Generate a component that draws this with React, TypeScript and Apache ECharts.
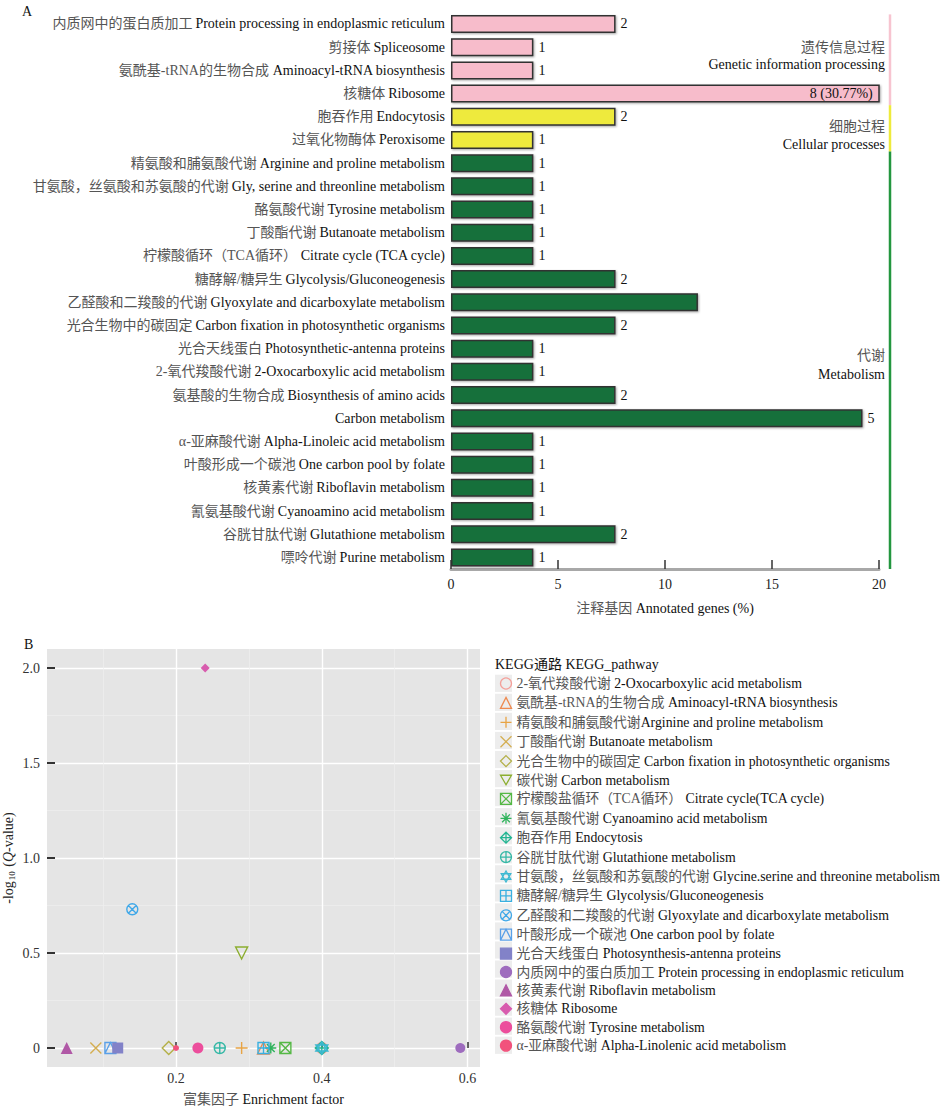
import React, { useEffect, useRef } from 'react';
import * as echarts from 'echarts';

const FONT = "'Liberation Serif','Times New Roman','Noto Sans CJK SC',serif";

// ---------- Panel A data ----------
const pathwayCn = [
  '内质网中的蛋白质加工', '剪接体', '氨酰基-tRNA的生物合成', '核糖体', '胞吞作用', '过氧化物酶体',
  '精氨酸和脯氨酸代谢', '甘氨酸，丝氨酸和苏氨酸的代谢', '酪氨酸代谢', '丁酸酯代谢', '柠檬酸循环（TCA循环）',
  '糖酵解/糖异生', '乙醛酸和二羧酸的代谢', '光合生物中的碳固定', '光合天线蛋白', '2-氧代羧酸代谢',
  '氨基酸的生物合成', '', 'α-亚麻酸代谢', '叶酸形成一个碳池', '核黄素代谢', '氰氨基酸代谢', '谷胱甘肽代谢', '嘌呤代谢',
];
const pathwayEn = [
  'Protein processing in endoplasmic reticulum', 'Spliceosome', 'Aminoacyl-tRNA biosynthesis', 'Ribosome',
  'Endocytosis', 'Peroxisome', 'Arginine and proline metabolism', 'Gly, serine and threonline metabolism',
  'Tyrosine metabolism', 'Butanoate metabolism', 'Citrate cycle (TCA cycle)', 'Glycolysis/Gluconeogenesis',
  'Glyoxylate and dicarboxylate metabolism', 'Carbon fixation in photosynthetic organisms',
  'Photosynthetic-antenna proteins', '2-Oxocarboxylic acid metabolism', 'Biosynthesis of amino acids',
  'Carbon metabolism', 'Alpha-Linoleic acid metabolism', 'One carbon pool by folate', 'Riboflavin metabolism',
  'Cyanoamino acid metabolism', 'Glutathione metabolism', 'Purine metabolism',
];
const annotatedPct = [
  7.69, 3.85, 3.85, 30.77, 7.69, 3.85, 3.85, 3.85, 3.85, 3.85, 3.85, 7.69,
  11.54, 7.69, 3.85, 3.85, 7.69, 19.23, 3.85, 3.85, 3.85, 3.85, 7.69, 3.85,
];
const geneLabels = [
  '2', '1', '1', '8 (30.77%)', '2', '1', '1', '1', '1', '1', '1', '2',
  '', '2', '1', '1', '2', '5', '1', '1', '1', '1', '2', '1',
];
const pathwayGroup = [0, 0, 0, 0, 1, 1, 2, 2, 2, 2, 2, 2, 2, 2, 2, 2, 2, 2, 2, 2, 2, 2, 2, 2];
const groupNamesCn = ['遗传信息过程', '细胞过程', '代谢'];
const groupNamesEn = ['Genetic information processing', 'Cellular processes', 'Metabolism'];
const groupBarColors = ['#F7BCCB', '#EEEA3C', '#15703A'];
const groupLineColors = ['#F7C4D0', '#EEEA3C', '#23963F'];
const groupTextY = [[47, 64], [126, 144], [355, 374]];

// ---------- Panel B data ----------
const keggCn = [
  '2-氧代羧酸代谢 ', '氨酰基-tRNA的生物合成 ', '精氨酸和脯氨酸代谢', '丁酸酯代谢 ', '光合生物中的碳固定 ',
  '碳代谢 ', '柠檬酸盐循环（TCA循环） ', '氰氨基酸代谢 ', '胞吞作用 ', '谷胱甘肽代谢 ',
  '甘氨酸，丝氨酸和苏氨酸的代谢 ', '糖酵解/糖异生 ', '乙醛酸和二羧酸的代谢 ', '叶酸形成一个碳池 ', '光合天线蛋白 ',
  '内质网中的蛋白质加工 ', '核黄素代谢 ', '核糖体 ', '酪氨酸代谢 ', 'α-亚麻酸代谢 ',
];
const keggEn = [
  '2-Oxocarboxylic acid metabolism', 'Aminoacyl-tRNA biosynthesis', 'Arginine and proline metabolism',
  'Butanoate metabolism', 'Carbon fixation in photosynthetic organisms', 'Carbon metabolism',
  'Citrate cycle(TCA cycle)', 'Cyanoamino acid metabolism', 'Endocytosis', 'Glutathione metabolism',
  'Glycine.serine and threonine metabolism', 'Glycolysis/Gluconeogenesis',
  'Glyoxylate and dicarboxylate metabolism', 'One carbon pool by folate', 'Photosynthesis-antenna proteins',
  'Protein processing in endoplasmic reticulum', 'Riboflavin metabolism', 'Ribosome', 'Tyrosine metabolism',
  'Alpha-Linolenic acid metabolism',
];
const enrichFactor = [0.40, 0.32, 0.29, 0.09, 0.19, 0.29, 0.35, 0.33, 0.40, 0.26, 0.40, 0.32, 0.14, 0.11, 0.12, 0.59, 0.05, 0.24, 0.23, 0.20];
const negLog10Q = [0, 0, 0, 0, 0, 0.5, 0, 0, 0, 0, 0, 0, 0.73, 0, 0, 0, 0, 2.0, 0, 0];
const keggColors = [
  '#F4A09A', '#EE8A50', '#E8A445', '#D4AE50', '#B4B048', '#8CAE30', '#55B845', '#30B35C', '#22B592', '#35B8A6',
  '#3CB9D2', '#3AB0E0', '#40A8E8', '#5AA0E8', '#8282C8', '#9E6CBE', '#B058A6', '#D85CAE', '#EC4E9C', '#F2527C',
];
const xMajor = [0.2, 0.4, 0.6];
const xMinor = [0.1, 0.3, 0.5];
const yMajor = [0, 0.5, 1.0, 1.5, 2.0];
const yMinor = [0.25, 0.75, 1.25, 1.75];

const CIRC = 'M0 10 A10 10 0 1 1 20 10 A10 10 0 1 1 0 10 Z';
const X_LINES = 'M2.93 2.93 L17.07 17.07 M17.07 2.93 L2.93 17.07';
const PLUS_LINES = 'M10 0 V20 M0 10 H20';
const keggSymbols = [
  'circle', 'triangle', 'path://' + PLUS_LINES, 'path://M0 0 L20 20 M20 0 L0 20', 'diamond',
  'path://M0 0 H20 L10 17.32 Z', 'path://M0 0 H20 V20 H0 Z M0 0 L20 20 M20 0 L0 20',
  'path://M10 0 V20 M0 10 H20 M2.93 2.93 L17.07 17.07 M17.07 2.93 L2.93 17.07',
  'path://M10 0 L20 10 L10 20 L0 10 Z ' + PLUS_LINES, 'path://' + CIRC + ' ' + PLUS_LINES,
  'path://M10 0 L18.66 15 L1.34 15 Z M10 20 L1.34 5 L18.66 5 Z', 'path://M0 0 H20 V20 H0 Z ' + PLUS_LINES,
  'path://' + CIRC + ' ' + X_LINES, 'path://M0 0 H20 V20 H0 Z M0 20 L10 0 L20 20',
  'rect', 'circle', 'triangle', 'diamond', 'circle', 'circle',
];
const keggFilled = [false, false, false, false, false, false, false, false, false, false, false, false, false, false, true, true, true, true, true, true];
const keggSizes = [11, 12, 12, 11, 13, 12, 11, 11, 13, 11, 12, 11, 11, 11, 11, 10, 12, 9, 11, 6];

const LEG_TOP = 675.5;
const LEG_ROW = 15;
const LEG_ITEM_H = 15.65;
const LEG_GAP = 3.4;

export default function App() {
  const ref = useRef<HTMLDivElement>(null);
  useEffect(() => {
    document.body.style.margin = '0';
    const chart = echarts.init(ref.current!, null, { renderer: 'svg' });
    const catNames = pathwayEn.map((e, i) => (pathwayCn[i] ? pathwayCn[i] + ' ' : '') + e);
    const keggNames = keggEn.map((e, i) => keggCn[i] + e);

    const barData = annotatedPct.map((v, i) => ({
      value: v,
      itemStyle: { color: groupBarColors[pathwayGroup[i]] },
      label: {
        formatter: geneLabels[i],
        position: i === 3 ? 'insideRight' : 'right',
        distance: i === 3 ? 7 : 5,
      },
    }));

    const scatterSeries = keggNames.map((name, i) => ({
      type: 'scatter',
      name,
      xAxisIndex: 1,
      yAxisIndex: 1,
      symbol: keggSymbols[i],
      symbolSize: keggSizes[i],
      data: [[enrichFactor[i], negLog10Q[i]]],
      itemStyle: {
        color: keggFilled[i] ? keggColors[i] : 'none',
        borderColor: keggColors[i],
        borderWidth: keggFilled[i] ? 0 : 1.4,
        opacity: 1,
      },
      emphasis: { disabled: true },
      z: 3,
    }));

    const richCE = (size: number) => ({
      c: { fontFamily: FONT, fontSize: size, color: '#555' },
      e: { fontFamily: FONT, fontSize: size, color: '#111' },
    });

    const option: any = {
      animation: false,
      backgroundColor: '#ffffff',
      textStyle: { fontFamily: FONT },
      title: {
        text: 'KEGG通路 KEGG_pathway',
        left: 495,
        top: 657,
        padding: 0,
        textStyle: { fontFamily: FONT, fontSize: 14, fontWeight: 'normal', color: '#111' },
      },
      legend: {
        orient: 'vertical',
        left: 498,
        top: LEG_TOP,
        padding: 0,
        z: 5,
        itemWidth: 11,
        itemHeight: 11,
        itemGap: LEG_GAP,
        selectedMode: false,
        data: keggNames,
        itemStyle: { borderWidth: 1.3 },
        formatter: (name: string) => {
          const i = keggNames.indexOf(name);
          return `{c|${keggCn[i]}}{e|${keggEn[i]}}`;
        },
        textStyle: {
          fontFamily: FONT,
          fontSize: 13.8,
          lineHeight: LEG_ROW,
          rich: {
            c: { fontFamily: FONT, fontSize: 13.8, color: '#555', lineHeight: LEG_ROW },
            e: { fontFamily: FONT, fontSize: 13.8, color: '#111', lineHeight: LEG_ROW },
          },
        },
      },
      grid: [
        { left: 451, top: 12.4, width: 428, height: 556.6, outerBoundsMode: 'none' },
        {
          left: 47, top: 649, width: 433, height: 418, show: true,
          backgroundColor: '#E5E5E5', borderWidth: 0, outerBoundsMode: 'none',
        },
      ],
      xAxis: [
        {
          type: 'value', gridIndex: 0, min: 0, max: 20, interval: 5,
          name: '{c|注释基因} {e|Annotated genes (%)}',
          nameLocation: 'middle', nameGap: 32,
          nameTextStyle: { fontFamily: FONT, fontSize: 14, rich: richCE(14) },
          axisLine: { show: true, lineStyle: { color: '#A8A8A8', width: 3 } },
          axisTick: { show: true, inside: true, length: 9, lineStyle: { color: '#333', width: 1.5 } },
          axisLabel: { fontFamily: FONT, fontSize: 14, color: '#222', margin: 8 },
          splitLine: { show: false },
        },
        {
          type: 'value', gridIndex: 1, min: 0.023, max: 0.617,
          name: '{c|富集因子} {e|Enrichment factor}',
          nameLocation: 'middle', nameGap: 25,
          nameTextStyle: { fontFamily: FONT, fontSize: 14, rich: richCE(14) },
          axisLine: { show: false },
          axisTick: { show: true, inside: true, length: 6, customValues: xMajor, lineStyle: { color: '#333', width: 1.5 } },
          axisLabel: {
            fontFamily: FONT, fontSize: 14, color: '#333', margin: 4, customValues: xMajor,
            formatter: (v: number) => v.toFixed(1),
          },
          splitLine: { show: true, lineStyle: { color: '#FFFFFF', width: 1.4 } },
        },
        {
          type: 'value', gridIndex: 1, min: 0.023, max: 0.617, position: 'top',
          axisLine: { show: false },
          axisTick: { show: false, customValues: xMinor },
          axisLabel: { show: false, customValues: xMinor },
          splitLine: { show: true, lineStyle: { color: '#EFEFEF', width: 0.7 } },
        },
      ],
      yAxis: [
        {
          type: 'category', gridIndex: 0, inverse: true, data: catNames,
          axisLine: { show: false },
          axisTick: { show: false },
          axisLabel: {
            interval: 0, margin: 6,
            formatter: (_v: string, i: number) =>
              pathwayCn[i] ? `{c|${pathwayCn[i]}} {e|${pathwayEn[i]}}` : `{e|${pathwayEn[i]}}`,
            rich: richCE(14),
          },
          splitLine: { show: false },
        },
        {
          type: 'value', gridIndex: 1, min: -0.1, max: 2.1,
          name: '{a|-log}{s|10}{a| (}{q|Q}{a|-value)}',
          nameLocation: 'middle', nameGap: 31, nameRotate: 90,
          nameTextStyle: {
            fontFamily: FONT, fontSize: 14, color: '#222',
            rich: {
              a: { fontFamily: FONT, fontSize: 14, color: '#222', lineHeight: 16 },
              s: { fontFamily: FONT, fontSize: 9, color: '#222', verticalAlign: 'bottom', lineHeight: 16, padding: [6, 1, 0, 1] },
              q: { fontFamily: FONT, fontSize: 14, color: '#222', fontStyle: 'italic', lineHeight: 16 },
            },
          },
          axisLine: { show: false },
          axisTick: { show: true, inside: true, length: 8, customValues: yMajor, lineStyle: { color: '#333', width: 2 } },
          axisLabel: {
            fontFamily: FONT, fontSize: 14, color: '#333', margin: 7, customValues: yMajor,
            formatter: (v: number) => (v === 0 ? '0' : v.toFixed(1)),
          },
          splitLine: { show: true, lineStyle: { color: '#FFFFFF', width: 1.4 } },
        },
        {
          type: 'value', gridIndex: 1, min: -0.1, max: 2.1, position: 'right',
          axisLine: { show: false },
          axisTick: { show: false, customValues: yMinor },
          axisLabel: { show: false, customValues: yMinor },
          splitLine: { show: true, lineStyle: { color: '#EFEFEF', width: 0.7 } },
        },
      ],
      series: [
        {
          type: 'bar',
          xAxisIndex: 0,
          yAxisIndex: 0,
          data: barData,
          barWidth: 18,
          clip: true,
          itemStyle: {
            borderColor: '#333333',
            borderWidth: 1.5,
            shadowColor: 'rgba(0,0,0,0.35)',
            shadowBlur: 2,
            shadowOffsetX: 1,
            shadowOffsetY: 1,
          },
          label: { show: true, fontFamily: FONT, fontSize: 14, color: '#111' },
          emphasis: { disabled: true },
        },
        ...scatterSeries,
      ],
    };
    chart.setOption(option);

    // group indicator lines and labels on right of panel A
    const yc = (i: number) => chart.convertToPixel({ yAxisIndex: 0 } as any, catNames[i]) as number;
    const step = yc(1) - yc(0);
    const graphics: any[] = [
      { type: 'text', left: 22, top: 4, style: { text: 'A', fontFamily: FONT, fontSize: 14, fill: '#111' } },
      { type: 'text', left: 24, top: 637, style: { text: 'B', fontFamily: FONT, fontSize: 14, fill: '#111' } },
    ];
    groupNamesCn.forEach((g, gi) => {
      const idx = pathwayGroup.map((p, i) => (p === gi ? i : -1)).filter((i) => i >= 0);
      const top = yc(idx[0]) - step / 2;
      const bottom = yc(idx[idx.length - 1]) + step / 2;
      graphics.push({
        type: 'line',
        shape: { x1: 890, y1: gi === 0 ? top + 2 : top, x2: 890, y2: bottom },
        style: { stroke: groupLineColors[gi], lineWidth: 2.5 },
      });
      graphics.push({
        type: 'text', x: 885, y: groupTextY[gi][0],
        style: { text: g, fontFamily: FONT, fontSize: 14, fill: '#555', align: 'right', verticalAlign: 'middle' },
      });
      graphics.push({
        type: 'text', x: 885, y: groupTextY[gi][1],
        style: { text: groupNamesEn[gi], fontFamily: FONT, fontSize: 14, fill: '#111', align: 'right', verticalAlign: 'middle' },
      });
    });
    keggNames.forEach((_n, i) => {
      const cy = LEG_TOP + LEG_ITEM_H / 2 + i * (LEG_ITEM_H + LEG_GAP);
      graphics.push({
        type: 'rect', z: 0,
        shape: { x: 495, y: cy - 8.6, width: 17, height: 17.2 },
        style: { fill: '#EDEDED' },
      });
    });
    chart.setOption({ graphic: graphics });

    return () => chart.dispose();
  }, []);
  return <div ref={ref} style={{ width: 952, height: 1116 }} />;
}
